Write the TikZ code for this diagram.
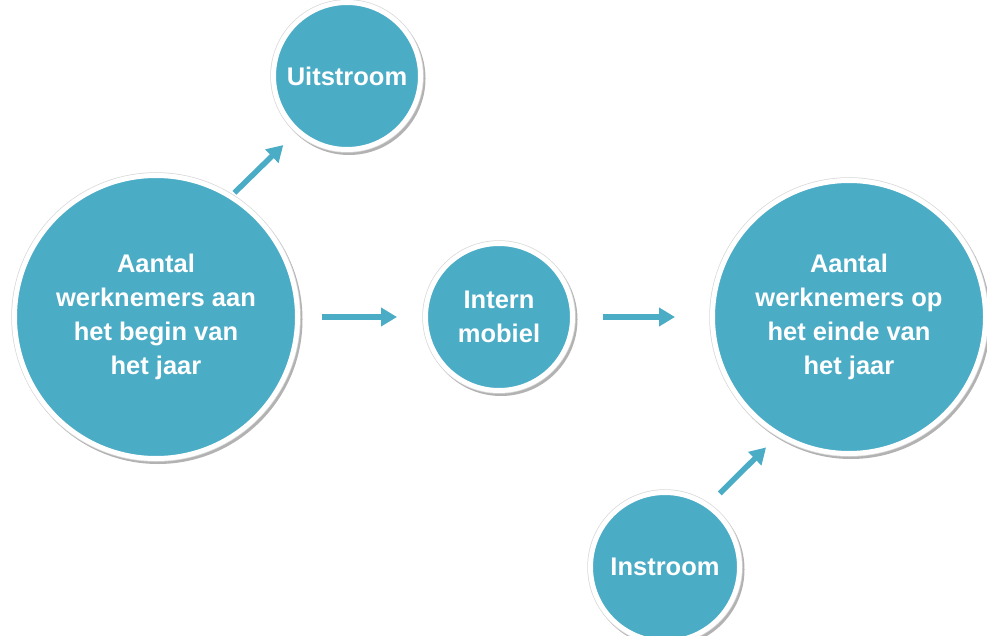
\documentclass[tikz,border=0pt]{standalone}
\usepackage{fontspec}
\setmainfont{Liberation Sans}
\usetikzlibrary{arrows.meta}
\definecolor{cblue}{HTML}{4BACC6}
\tikzset{
  circ/.style={circle, fill=cblue, draw=white, line width=5pt, inner sep=0pt,
    minimum size=#1,
    preaction={draw=black!30, line width=6pt, transform canvas={shift={(2pt,-2.5pt)}}},
    preaction={draw=black!15, line width=6.5pt},
    font=\fontsize{25.5}{34}\selectfont\bfseries, text=white, align=center},
  arr/.style={draw=cblue, line width=5.5pt, -{Triangle[width=18pt,length=16pt]}}
}
\begin{document}
\begin{tikzpicture}[x=1pt,y=-1pt]
\useasboundingbox (0,0) rectangle (987,636);
\node[circ=147pt] (U) at (347,76) {Uitstroom};
\node[circ=283pt] (L) at (156,317) {Aantal\\werknemers aan\\het begin van\\het jaar};
\node[circ=147pt] (I) at (499,317) {Intern\\mobiel};
\node[circ=273pt] (R) at (849,317) {Aantal\\werknemers op\\het einde van\\het jaar};
\node[circ=149pt] (N) at (665,567) {Instroom};
\draw[arr, shorten <=3pt, shorten >=18pt] (L.58) -- (U.228);
\draw[arr, shorten <=22pt, shorten >=26pt] (L.east) -- (I.west);
\draw[arr, shorten <=28pt, shorten >=35pt] (I.east) -- (R.west);
\draw[arr, shorten <=15pt, shorten >=16pt] (N.55) -- (R.239);
\end{tikzpicture}
\end{document}
